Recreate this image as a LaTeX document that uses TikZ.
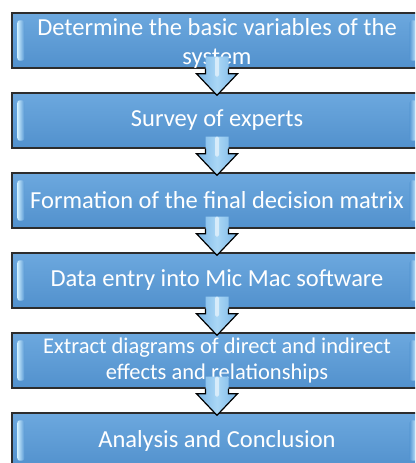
\documentclass[tikz,border=0pt]{standalone}
\usepackage{fontspec}
\setmainfont{Carlito}
\usetikzlibrary{calc}
\definecolor{boxblue}{RGB}{91,155,213}
\definecolor{boxtop}{RGB}{108,168,222}
\definecolor{boxbot}{RGB}{82,145,205}
\definecolor{bevel}{RGB}{205,238,255}
\definecolor{edge}{RGB}{45,45,45}
\definecolor{arrowfill}{RGB}{120,180,230}
\definecolor{arrowlight}{RGB}{170,215,245}
\tikzset{
  stepbox/.style={draw=edge, line width=1.4pt, top color=boxtop, bottom color=boxbot,
    minimum width=410pt, minimum height=55pt, inner sep=0pt,
    text=white, align=center, font=\fontsize{24.5}{28.5}\selectfont},
  steptext/.style={text=white, align=center, inner sep=0pt, font=\fontsize{24.5}{29}\selectfont},
  smalltext/.style={font=\fontsize{22.5}{25.5}\selectfont},
  bevelbar/.style={rounded corners=2.5pt, left color=bevel, right color=boxblue},
  bevelbarr/.style={rounded corners=2.5pt, right color=bevel, left color=boxblue},
  arrowbody/.style={left color=arrowfill, right color=arrowfill, middle color=arrowlight},
  arrowline/.style={draw=black, line width=1.2pt, line join=miter},
  arrowshine/.style={fill=white, opacity=0.55, rounded corners=1.5pt},
}
\begin{document}
\begin{tikzpicture}[x=1pt,y=1pt]
\useasboundingbox (0,0) rectangle (415,-463);
\clip (0,0) rectangle (415,-463);
\node[stepbox] (b1) at (217,-40.5) {};
\node[steptext] (b1t) at ($(b1.center)+(0,-3)$) {Determine the basic variables of the\\system};
\node[stepbox] (b2) at (217,-120.5) {Survey of experts};
\node[stepbox] (b3) at (217,-200.5) {Formation of the final decision matrix};
\node[stepbox] (b4) at (217,-280.5) {Data entry into Mic Mac software};
\node[stepbox,smalltext] (b5) at (217,-360.5) {Extract diagrams of direct and indirect\\effects and relationships};
\node[stepbox] (b6) at (217,-440.5) {Analysis and Conclusion};
\foreach \b in {b1,b2,b3,b4,b5,b6}{
  \path[bevelbar] ($(\b.north west)+(6,-8)$) rectangle ($(\b.south west)+(13,8)$);
  \path[bevelbarr] ($(\b.north east)+(-13,-8)$) rectangle ($(\b.south east)+(-6,8)$);
}
\foreach \a/\b in {b1/b2,b2/b3,b3/b4,b4/b5,b5/b6}{
  \path[arrowbody] ($(\a.south)+(-11.5,12)$) -- ($(\a.south)+(-11.5,-5)$) -- ($(\a.south)+(-20.5,-5)$)
     -- ($(\b.north)+(0,-3)$) -- ($(\a.south)+(20.5,-5)$) -- ($(\a.south)+(11.5,-5)$) -- ($(\a.south)+(11.5,12)$) -- cycle;
  \draw[arrowline] ($(\a.south)+(-11.5,0)$) -- ($(\a.south)+(-11.5,-5)$) -- ($(\a.south)+(-20.5,-5)$)
     -- ($(\b.north)+(0,-3)$) -- ($(\a.south)+(20.5,-5)$) -- ($(\a.south)+(11.5,-5)$) -- ($(\a.south)+(11.5,0)$);
  \path[arrowshine] ($(\a.south)+(-2,12)$) rectangle ($(\a.south)+(2,-8)$);
}
\end{tikzpicture}
\end{document}
